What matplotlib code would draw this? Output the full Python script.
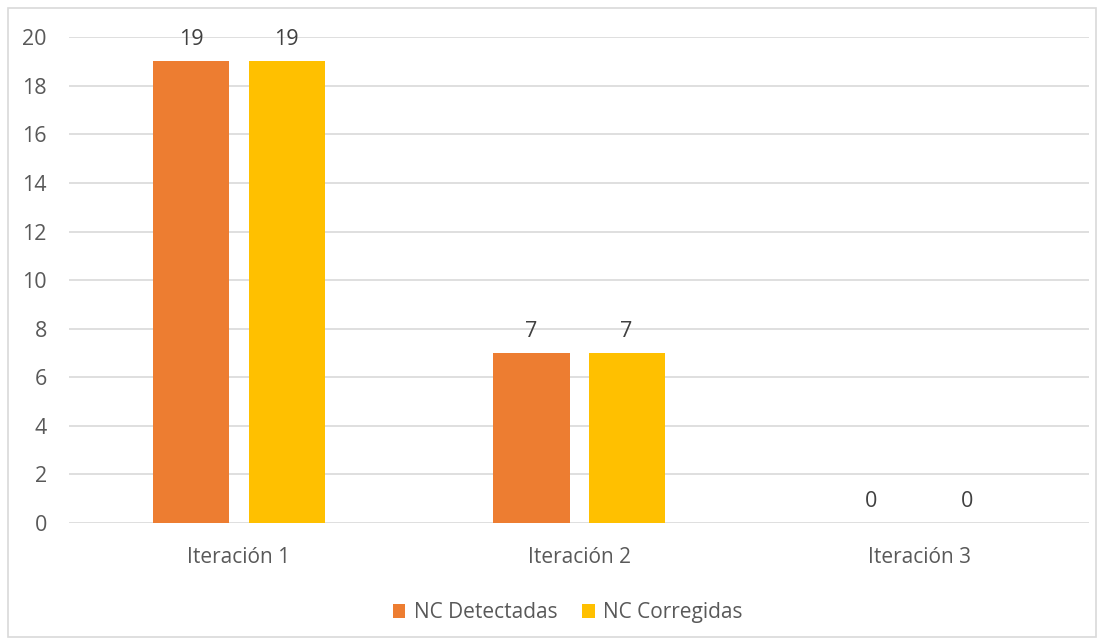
import matplotlib.pyplot as plt
import matplotlib.patches as patches
import numpy as np

categories = ['Iteración 1', 'Iteración 2', 'Iteración 3']
detectadas = [19, 7, 0]
corregidas = [19, 7, 0]
series_names = ['NC Detectadas', 'NC Corregidas']
yticks = [0, 2, 4, 6, 8, 10, 12, 14, 16, 18, 20]

plt.rcParams['font.family'] = ['Open Sans', 'DejaVu Sans']

fig = plt.figure(figsize=(11.04, 6.41), dpi=100)
ax = fig.add_axes([0.0625, 0.184, 0.924, 0.758])

# outer chart border
fig.patches.append(patches.Rectangle((0.007, 0.006), 0.986, 0.982, transform=fig.transFigure,
                                     fill=False, edgecolor='#d9d9d9', lw=1.2))

x = np.arange(len(categories))
w = 0.224
off = 0.14
b1 = ax.bar(x - off, detectadas, w, color='#ed7d31', label=series_names[0], zorder=3)
b2 = ax.bar(x + off, corregidas, w, color='#ffc000', label=series_names[1], zorder=3)

for bars in (b1, b2):
    for r in bars:
        ax.annotate(str(int(r.get_height())), (r.get_x() + r.get_width() / 2, r.get_height()),
                    xytext=(0, 8), textcoords='offset points', ha='center', va='bottom',
                    fontsize=15.5, color='#404040')

ax.set_xlim(-0.5, 2.5)
ax.set_ylim(0, 20)
ax.set_yticks(yticks)
ax.set_xticks(x)
ax.set_xticklabels(categories)
ax.yaxis.grid(True, color='#d9d9d9', lw=1.2, zorder=0)
for s in ax.spines.values():
    s.set_visible(False)
ax.tick_params(axis='both', length=0, labelcolor='#595959')
ax.tick_params(axis='x', pad=17, labelsize=15)
ax.tick_params(axis='y', pad=16, labelsize=15.5)

ax.legend(loc='center', bbox_to_anchor=(0.489, -0.185), ncol=2, frameon=False,
          fontsize=15, labelcolor='#595959', handlelength=0.6, handleheight=0.6,
          handletextpad=0.4, columnspacing=1.2)

fig.savefig('out.png', dpi=100)
